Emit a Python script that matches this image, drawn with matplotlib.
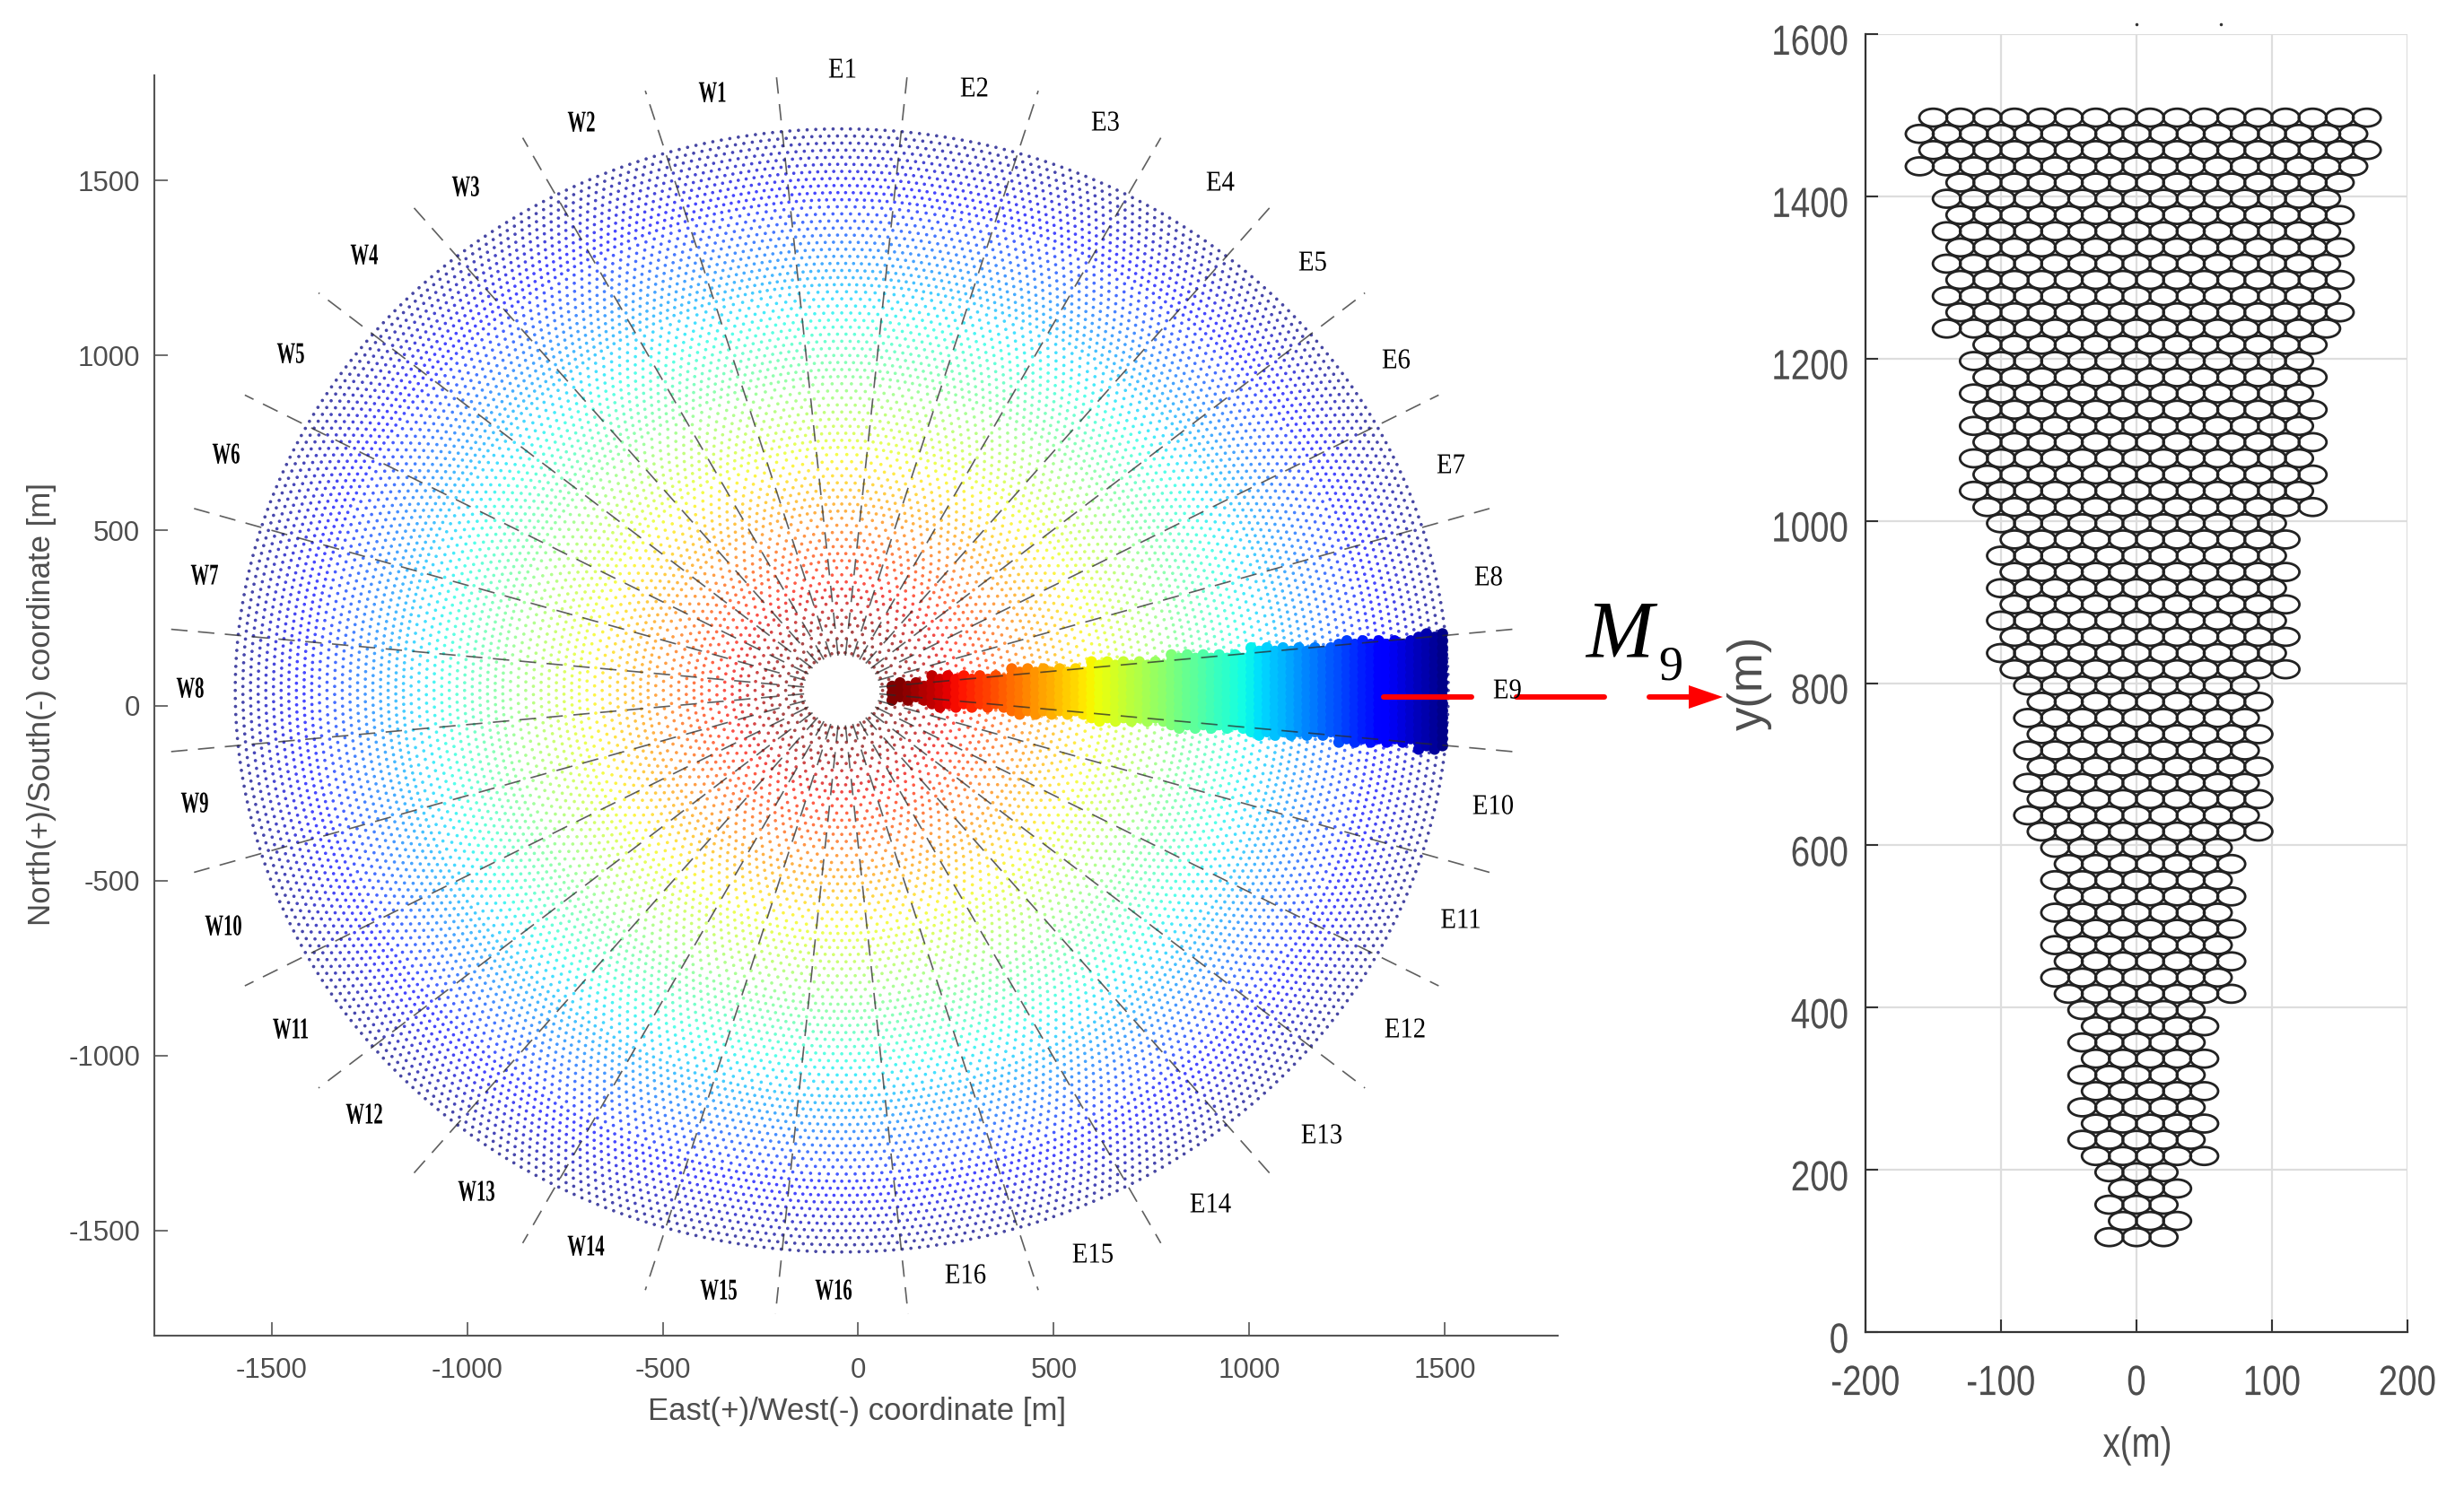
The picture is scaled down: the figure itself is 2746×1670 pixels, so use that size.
import numpy as np
import matplotlib
matplotlib.use("Agg")
import matplotlib.pyplot as plt
from matplotlib.patches import Ellipse, Polygon
from matplotlib.patheffects import AbstractPathEffect
from matplotlib.transforms import Affine2D, ScaledTranslation

plt.rcParams["axes.unicode_minus"] = False

# ---------------- DATA ----------------
east_labels = ["E1", "E2", "E3", "E4", "E5", "E6", "E7", "E8", "E9", "E10", "E11", "E12", "E13", "E14", "E15", "E16"]
west_labels = ["W1", "W2", "W3", "W4", "W5", "W6", "W7", "W8", "W9", "W10", "W11", "W12", "W13", "W14", "W15", "W16"]

# label centres (pixels)
east_x = [939, 1086, 1232, 1360, 1463, 1556, 1617, 1659, 1680, 1664, 1628, 1566, 1473, 1349, 1218, 1076]
east_y = [79, 100, 138, 205, 294, 403, 520, 645, 771, 900, 1027, 1149, 1267, 1344, 1400, 1423]
west_x = [794, 648, 519, 406, 324, 252, 228, 212, 217, 249, 324, 406, 531, 653, 801, 929]
west_y = [105, 138, 210, 286, 396, 508, 643, 769, 897, 1034, 1149, 1244, 1330, 1391, 1440, 1440]

# left field: ring zones (start radius, heliostats per ring)
zone_start = [108, 177, 257, 357, 497, 677, 897, 1157, 1397]
zone_count = [38, 56, 82, 114, 158, 216, 284, 368, 440]
ring_total = 75
field_r_max = 1604
field_cx = -42
field_cy = 43
field_squash = 0.967
color_span = 1450
sector_edges = 32

# right panel: rows per band in the M9 sector (bottom to top)
band_rows = [5, 10, 10, 10, 10, 11, 10, 4]
band_cols = [3, 5, 7, 9, 11, 13, 15, 17]
row_y0 = 117
row_dy = 20
col_dx = 20

xticks_left = [-1500, -1000, -500, 0, 500, 1000, 1500]
yticks_left = [-1500, -1000, -500, 0, 500, 1000, 1500]
xticks_right = [-200, -100, 0, 100, 200]
yticks_right = [0, 200, 400, 600, 800, 1000, 1200, 1400, 1600]

# ---------------- FIGURE ----------------
W, H = 2746, 1670
fig = plt.figure(figsize=(W / 100, H / 100), dpi=100)
SANS = "Liberation Sans"
SERIF = "Liberation Serif"
GREY = "#4d4d4d"


class Squeeze(AbstractPathEffect):
    # narrows a text around its anchor, the source picture has condensed lettering
    def __init__(self, text, sx):
        super().__init__()
        self.text = text
        self.sx = sx

    def draw_path(self, renderer, gc, tpath, affine, rgbFace=None):
        cx = self.text.get_transform().transform(self.text.get_position())[0]
        squeeze = Affine2D().translate(-cx, 0).scale(self.sx, 1).translate(cx, 0)
        renderer.draw_path(gc, tpath, affine + squeeze, rgbFace)


def add_ax(left, right, top, bottom):
    return fig.add_axes([left / W, 1 - bottom / H, (right - left) / W, (bottom - top) / H])


def px_text(x, y, s, sx=None, **kw):
    kw.setdefault("ha", "center")
    kw.setdefault("va", "center")
    t = fig.text(x / W, 1 - y / H, s, **kw)
    if sx:
        t.set_path_effects([Squeeze(t, sx)])
    return t


# ---------------- LEFT PANEL ----------------
ax = add_ax(172, 1736, 84, 1489)
ax.set_xlim(-1800, 1789)
ax.set_ylim(-1800, 1800)
for s in ["top", "right"]:
    ax.spines[s].set_visible(False)
for s in ["left", "bottom"]:
    ax.spines[s].set_color("#555555")
    ax.spines[s].set_linewidth(1.5)
ax.set_xticks(xticks_left)
ax.set_yticks(yticks_left)
ax.tick_params(direction="in", length=10.8, width=1.2, color="#555555", labelcolor=GREY, labelsize=22.5)
ax.tick_params(axis="x", pad=17)
ax.tick_params(axis="y", pad=11.5)
for lab in ax.get_xticklabels() + ax.get_yticklabels():
    lab.set_family(SANS)

# dots, ring by ring
ring_step = (field_r_max - zone_start[0]) / (ring_total - 1)
fx, fy, fc = [], [], []
for k in range(ring_total):
    r = zone_start[0] + k * ring_step
    n = [c for z, c in zip(zone_start, zone_count) if z <= r + 1][-1]
    a = (np.arange(n) + 0.5 * (k % 2)) * 2 * np.pi / n
    fx.extend(field_cx + r * field_squash * np.cos(a))
    fy.extend(field_cy + r * np.sin(a))
    fc.extend([(field_r_max - r) / color_span] * n)
ax.scatter(fx, fy, c=fc, cmap="jet", vmin=0, vmax=1, s=7, alpha=0.72, linewidths=0, zorder=2)

# rows of the M9 sector, shared by both panels
row_x, row_y = [], []
k = 0
for rows, cols in zip(band_rows, band_cols):
    for _ in range(rows):
        shift = col_dx / 2 if k % 2 else 0
        for c in range(cols):
            row_x.append((c - (cols - 1) / 2) * col_dx + shift)
            row_y.append(row_y0 + k * row_dy)
        k += 1
row_x = np.array(row_x)
row_y = np.array(row_y)

# E9 sector drawn solid
sec_r = 133 + (row_y - row_y0) * 1.055
ax.scatter(field_cx + sec_r * field_squash, field_cy - 8 + row_x, c=(field_r_max - sec_r) / color_span,
           cmap="jet", vmin=0, vmax=1, s=80, linewidths=0, zorder=3)

# sector boundaries
for i in range(sector_edges):
    a = np.deg2rad(5.625 + i * 11.25)
    ax.plot([field_cx + 100 * field_squash * np.cos(a), field_cx + 1790 * field_squash * np.cos(a)],
            [field_cy + 100 * np.sin(a), field_cy + 1790 * np.sin(a)],
            color="#2a2a2a", lw=1.2, alpha=0.75, dashes=(11, 7), zorder=4)

px_text(955, 1573, "East(+)/West(-) coordinate [m]", family=SANS, fontsize=25, color=GREY)
px_text(47, 785, "North(+)/South(-) coordinate [m]", family=SANS, fontsize=25, color=GREY, rotation=90)

for s, x, y in zip(east_labels, east_x, east_y):
    px_text(x, y, s, sx=0.9, family=SERIF, fontsize=23, color="black")
for s, x, y in zip(west_labels, west_x, west_y):
    px_text(x, y, s, sx=0.62, family=SERIF, fontsize=24, weight="bold", color="black")

# ---------------- RIGHT PANEL ----------------
ax2 = add_ax(2079, 2683, 38, 1485)
ax2.set_xlim(-200, 200)
ax2.set_ylim(0, 1600)
for s in ["top", "right"]:
    ax2.spines[s].set_visible(False)
for s in ["left", "bottom"]:
    ax2.spines[s].set_color("#333333")
    ax2.spines[s].set_linewidth(1.6)
ax2.set_xticks(xticks_right)
ax2.set_yticks(yticks_right)
ax2.grid(True, color="#dddddd", lw=1.6, zorder=0)
ax2.set_axisbelow(True)
ax2.tick_params(direction="in", length=10, width=1.5, color="#333333", labelcolor=GREY, labelsize=33.8)
ax2.tick_params(axis="x", pad=26)
ax2.tick_params(axis="y", pad=13.5)
down = ScaledTranslation(0, -6 / 100, fig.dpi_scale_trans)
for lab in ax2.get_xticklabels():
    lab.set_family(SANS)
    lab.set_path_effects([Squeeze(lab, 0.82)])
for lab in ax2.get_yticklabels():
    lab.set_family(SANS)
    lab.set_transform(lab.get_transform() + down)
    lab.set_path_effects([Squeeze(lab, 0.82)])

for x, y in zip(row_x, row_y):
    ax2.add_patch(Ellipse((x, y), 20.5, 22, fc="none", ec="#222222", lw=2.0, zorder=3))

ax2.plot([0, 62], [1612, 1612], ls="none", marker=".", ms=3, color="#333333", clip_on=False)

px_text(2382, 1612, "x(m)", sx=0.82, family=SANS, fontsize=33.8, color=GREY)
px_text(1950, 761, "y(m)", family=SANS, fontsize=38, color=GREY, rotation=90)

# ---------------- M9 ARROW ----------------
overlay = fig.add_axes([0, 0, 1, 1], facecolor="none")
overlay.set_xlim(0, W)
overlay.set_ylim(H, 0)
overlay.axis("off")
for x0, x1 in [(1542, 1640), (1690, 1788), (1838, 1885)]:
    overlay.plot([x0, x1], [777, 777], color="red", lw=4.3, solid_capstyle="round")
overlay.add_patch(Polygon([(1882, 764), (1920, 777), (1882, 790)], closed=True, fc="red", ec="none"))
px_text(1767, 732, "M", family=SERIF, style="italic", fontsize=65, ha="left", va="baseline", color="black")
px_text(1848, 757, "9", family=SERIF, fontsize=39, ha="left", va="baseline", color="black")

fig.savefig("out.png", dpi=100, facecolor="white")
